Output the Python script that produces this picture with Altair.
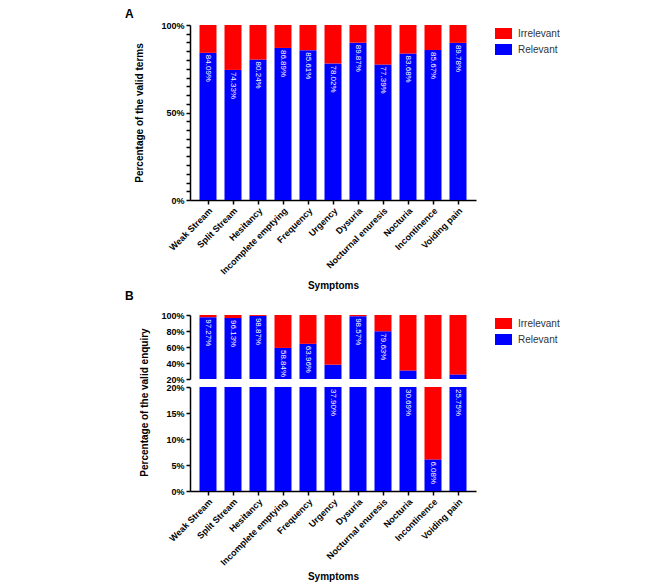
import altair as alt
import pandas as pd

symptoms = ["Weak Stream", "Split Stream", "Hesitancy", "Incomplete emptying",
            "Frequency", "Urgency", "Dysuria", "Nocturnal enuresis",
            "Nocturia", "Incontinence", "Voiding pain"]
relevant_terms = [84.09, 74.33, 80.24, 86.89, 85.61, 78.02, 89.87, 77.39, 83.68, 85.67, 89.78]
relevant_enquiry = [97.27, 96.13, 98.87, 58.84, 63.96, 37.90, 98.57, 79.63, 30.69, 6.08, 25.75]
categories = ["Irrelevant", "Relevant"]
colors = ["#FF0000", "#0000FF"]

FONT = "Liberation Sans"


def long_df(values):
    rows = []
    for s, v in zip(symptoms, values):
        rows.append({"symptom": s, "category": "Relevant", "start": 0.0, "end": v, "value": v})
        rows.append({"symptom": s, "category": "Irrelevant", "start": v, "end": 100.0, "value": v})
    return pd.DataFrame(rows)


def label_df(values):
    return pd.DataFrame({"symptom": symptoms, "start": values,
                         "label": [f"{v:.2f}%" for v in values]})


dfA = long_df(relevant_terms)
labA = label_df(relevant_terms)
dfB = long_df(relevant_enquiry)
labB = label_df(relevant_enquiry)
labB_upper = labB[labB["start"] >= 50].copy()
labB_lower = labB[labB["start"] < 50].copy()
labB_lower["start"] = labB_lower["start"].clip(upper=20)

xscale = alt.Scale(paddingInner=0.32, paddingOuter=0.38)
x_axis_on = alt.Axis(title="Symptoms", labelAngle=-45, labelAlign="right",
                     labelBaseline="top", titlePadding=4)
x_axis_off = alt.Axis(labels=False, ticks=False, domain=False, title=None)


def color_enc(show_legend):
    sc = alt.Scale(domain=categories, range=colors)
    if show_legend:
        lg = alt.Legend(title=None, orient="none", legendX=305, legendY=0,
                        symbolType="M-1,-0.65H1V0.65H-1Z", symbolSize=289,
                        symbolStrokeWidth=0, symbolOpacity=1,
                        labelFont=FONT, labelFontSize=10, labelColor="#333333",
                        labelOffset=6, rowPadding=1)
        return alt.Color("category:N", scale=sc, legend=lg)
    return alt.Color("category:N", scale=sc, legend=None)


def panel(df, labs, yscale, yaxis, xaxis, legend, clip):
    xe = alt.X("symptom:N", sort=symptoms, scale=xscale, axis=xaxis)
    ye = alt.Y("start:Q", scale=yscale, axis=yaxis)
    bars = alt.Chart(df).mark_bar(clip=clip).encode(
        x=xe, y=ye, y2="end:Q", color=color_enc(legend))
    text = alt.Chart(labs).mark_text(angle=90, align="left", baseline="middle", dx=2,
                                     color="white", fontSize=8, font=FONT).encode(
        x=xe, y=ye, text="label:N")
    return alt.layer(bars, text)


# Panel A
yscaleA = alt.Scale(domain=[0, 100], nice=False)
yaxisA = alt.Axis(values=list(range(0, 101, 5)),
                  labelExpr="datum.value % 50 == 0 ? datum.value + '%' : ''",
                  labelOverlap=False, title="Percentage of the valid terms",
                  titlePadding=16)
panelA = panel(dfA, labA, yscaleA, yaxisA, x_axis_on, True, False).properties(
    width=286, height=175,
    title=alt.TitleParams("A", anchor="start", frame="group", dx=-65, offset=0,
                          fontSize=12, font=FONT, fontWeight="bold", color="black"),
)

# Panel B upper
yscaleBU = alt.Scale(domain=[20, 100], nice=False)
yaxisBU = alt.Axis(values=[20, 40, 60, 80, 100], labelExpr="datum.value + '%'",
                   title=None, labelOverlap=False)
upperB = panel(dfB, labB_upper, yscaleBU, yaxisBU, x_axis_off, True, True).properties(
    width=286, height=64,
    title=alt.TitleParams("B", anchor="start", frame="group", dx=-65, offset=8,
                          fontSize=12, font=FONT, fontWeight="bold", color="black"),
)

# Panel B lower
yscaleBL = alt.Scale(domain=[0, 20], nice=False)
yaxisBL = alt.Axis(values=[0, 5, 10, 15, 20], labelExpr="datum.value + '%'",
                   title="Percentage of the valid enquiry", titleY=15,
                   titlePadding=16, labelOverlap=False)
lowerB = panel(dfB, labB_lower, yscaleBL, yaxisBL, x_axis_on, False, True).properties(
    width=286, height=104,
)

panelB = alt.vconcat(upperB, lowerB, spacing=8, bounds="flush").resolve_scale(
    color="independent")

chart = alt.vconcat(panelA, panelB, spacing=115, bounds="flush").resolve_scale(
    color="independent"
).properties(
    padding={"left": 117, "top": 0, "right": 5, "bottom": 5}
).configure_view(stroke=None).configure_axis(
    domainColor="black", domainWidth=1.5, tickColor="black", tickWidth=1.5,
    tickSize=4, labelColor="black", labelFont=FONT, labelFontSize=9,
    labelFontWeight="bold", titleFont=FONT, titleFontSize=10,
    titleFontWeight="bold", titleColor="black", grid=False, labelPadding=2,
)

chart.save("out.html", embed_options={"renderer": "svg", "actions": False})
